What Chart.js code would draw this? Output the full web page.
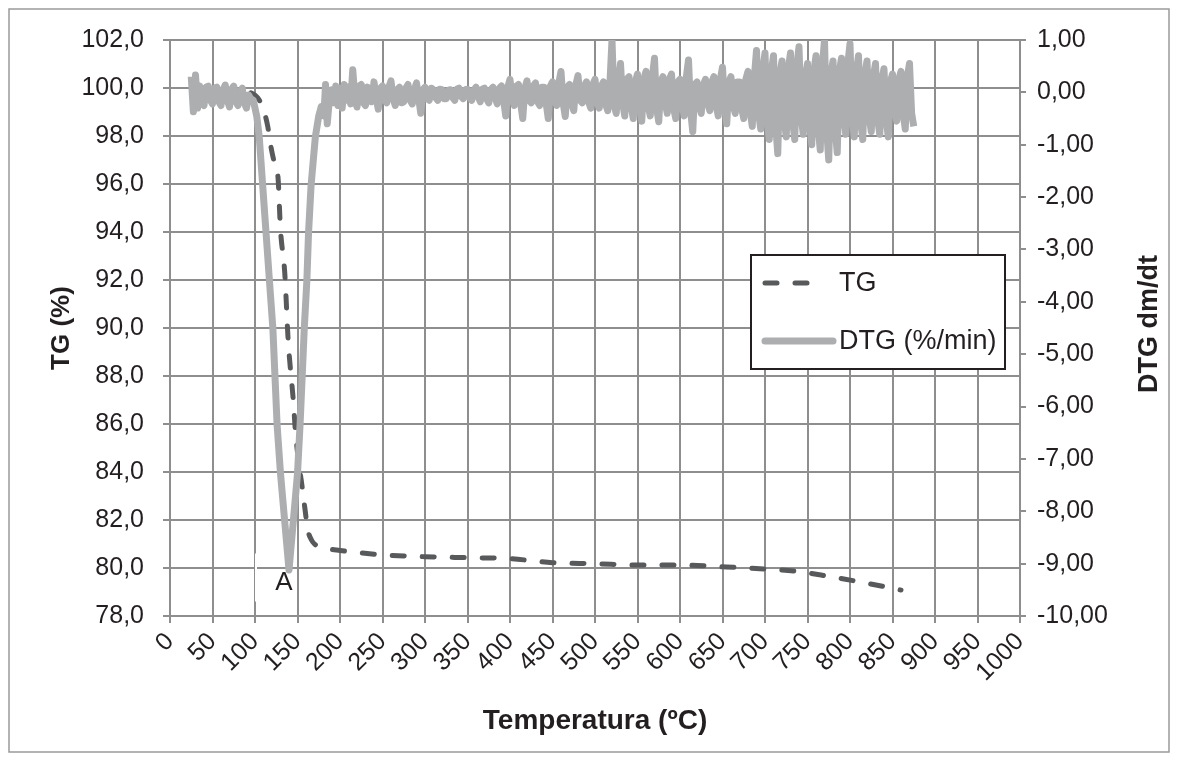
<!DOCTYPE html>
<html>
<head>
<meta charset="utf-8">
<script src="https://cdn.jsdelivr.net/npm/chart.js@4.4.1/dist/chart.umd.min.js"></script>
<style>
  html, body { margin: 0; padding: 0; background: #fff; }
  #wrap { width: 1178px; height: 760px; }
</style>
</head>
<body>
<div id="wrap"><canvas id="tgChart" width="1178" height="760"></canvas></div>
<script>
// axis ticks
const tempTicks = [0, 50, 100, 150, 200, 250, 300, 350, 400, 450, 500, 550, 600, 650, 700, 750, 800, 850, 900, 950, 1000];
const tgTicks = [78, 80, 82, 84, 86, 88, 90, 92, 94, 96, 98, 100, 102];
const dtgTicks = [-10, -9, -8, -7, -6, -5, -4, -3, -2, -1, 0, 1];

// TG curve (%)
const tgTemp = [25, 50, 75, 95, 100, 105, 110, 115, 118, 122, 127, 130, 135, 139, 145, 148, 153, 155, 159, 162, 166, 170, 180, 200, 250, 300, 350, 400, 450, 500, 550, 600, 650, 700, 740, 775, 815, 860];
const tgValue = [100.0, 99.95, 99.9, 99.8, 99.7, 99.5, 99.1, 98.4, 97.7, 97.0, 96.3, 94.1, 92.3, 89.5, 87.0, 85.5, 84.0, 83.5, 82.4, 81.6, 81.2, 81.0, 80.85, 80.73, 80.55, 80.47, 80.43, 80.39, 80.22, 80.18, 80.12, 80.12, 80.05, 79.96, 79.85, 79.65, 79.4, 79.08];

// DTG curve (%/min)
const dtgTemp = [
  25, 27.5, 30, 32.5, 35, 37.5, 40, 42.5, 45, 47.5, 50, 52.5, 55, 57.5, 60, 62.5, 65, 67.5, 70, 72.5, 75, 77.5, 80, 82.5, 85, 87.5, 90, 92.5, 95,
  98, 102, 105, 109, 113, 117, 121, 126, 130, 135, 140, 145, 150, 153, 158, 161, 163, 166, 171, 175, 178, 181, 183, 185, 188,
  190, 192.5, 195, 197.5, 200, 202.5, 205, 207.5, 210, 212.5, 215, 217.5, 220, 222.5, 225, 227.5, 230, 232.5, 235, 237.5,
  240, 242.5, 245, 247.5, 250, 252.5, 255, 257.5, 260, 262.5, 265, 267.5, 270, 272.5, 275, 277.5, 280, 282.5, 285, 287.5,
  290, 292.5, 295, 297.5, 300, 302.5, 305, 307.5, 310, 312.5, 315, 317.5, 320, 322.5, 325, 327.5, 330, 332.5, 335, 337.5,
  340, 342.5, 345, 347.5, 350, 352.5, 355, 357.5, 360, 362.5, 365, 367.5, 370, 372.5, 375, 377.5, 380, 382.5, 385, 387.5,
  390, 392.5, 395, 397.5, 400, 402.5, 405, 407.5, 410, 412.5, 415, 417.5, 420, 422.5, 425, 427.5, 430, 432.5, 435, 437.5,
  440, 442.5, 445, 447.5, 450, 452.5, 455, 457.5, 460, 462.5, 465, 467.5, 470, 472.5, 475, 477.5, 480, 482.5, 485, 487.5,
  490, 492.5, 495, 497.5, 500, 502.5, 505, 507.5, 510, 512.5, 515, 517.5, 520, 522.5, 525, 527.5, 530, 532.5, 535, 537.5,
  540, 542.5, 545, 547.5, 550, 552.5, 555, 557.5, 560, 562.5, 565, 567.5, 570, 572.5, 575, 577.5, 580, 582.5, 585, 587.5,
  590, 592.5, 595, 597.5, 600, 602.5, 605, 607.5, 610, 612.5, 615, 617.5, 620, 622.5, 625, 627.5, 630, 632.5, 635, 637.5,
  640, 642.5, 645, 647.5, 650, 652.5, 655, 657.5, 660, 662.5, 665, 667.5, 670, 672.5, 675, 677.5, 680, 682.5, 685, 687.5,
  690, 692.5, 695, 697.5, 700, 702.5, 705, 707.5, 710, 712.5, 715, 717.5, 720, 722.5, 725, 727.5, 730, 732.5, 735, 737.5,
  740, 742.5, 745, 747.5, 750, 752.5, 755, 757.5, 760, 762.5, 765, 767.5, 770, 772.5, 775, 777.5, 780, 782.5, 785, 787.5,
  790, 792.5, 795, 797.5, 800, 802.5, 805, 807.5, 810, 812.5, 815, 817.5, 820, 822.5, 825, 827.5, 830, 832.5, 835, 837.5,
  840, 842.5, 845, 847.5, 850, 852.5, 855, 857.5, 860, 862.5, 865, 867.5, 870, 872.5, 875];
const dtgValue = [
  0.30, -0.37, 0.33, -0.30, 0.12, -0.20, -0.25, 0.10, 0.12, -0.15, -0.22, 0.08, 0.10, -0.18, -0.25, 0.05, 0.14, -0.15, -0.28, 0.06, 0.12, -0.18, -0.25, 0.02, 0.08, -0.20, -0.30, -0.05, -0.12,
  -0.15, -0.45, -0.85, -1.77, -2.68, -3.60, -4.50, -6.35, -7.28, -8.20, -9.12, -8.20, -7.28, -6.35, -4.50, -3.60, -2.68, -1.77, -0.85, -0.45, -0.27, -0.45, 0.15, -0.60, -0.05,
  0.05, -0.20, 0.12, -0.25, 0.08, -0.30, 0.15, -0.15, 0.10, -0.22, 0.43, -0.10, -0.28, 0.12, 0.15, -0.20, -0.25, 0.10, 0.05, -0.18,
  0.20, -0.10, -0.32, 0.08, 0.12, -0.15, -0.20, 0.10, 0.22, -0.12, -0.25, 0.05, 0.10, -0.20, -0.18, 0.08, 0.15, -0.15, -0.22, 0.05,
  0.18, -0.10, -0.40, 0.05, 0.10, -0.12, -0.15, 0.08, 0.05, -0.10, -0.15, 0.06, 0.05, -0.12, -0.12, 0.04, 0.05, -0.10, -0.15, 0.06,
  0.08, -0.08, -0.12, 0.05, 0.06, -0.10, -0.15, 0.04, 0.10, -0.08, -0.18, 0.06, 0.08, -0.12, -0.20, 0.05, 0.10, -0.10, -0.22, 0.08,
  0.12, -0.15, -0.45, 0.10, 0.25, -0.12, -0.25, 0.12, 0.15, -0.20, -0.50, 0.08, 0.22, -0.15, -0.20, 0.12, 0.18, -0.18, -0.25, 0.10,
  0.10, -0.20, -0.50, 0.12, 0.20, -0.15, -0.25, 0.18, 0.40, -0.20, -0.46, 0.10, 0.15, -0.20, -0.35, 0.15, 0.32, -0.15, -0.20, 0.12,
  0.20, -0.18, -0.30, 0.15, 0.25, -0.20, -0.30, 0.12, 0.20, -0.22, -0.35, 0.15, 1.00, -0.25, -0.40, 0.20, 0.55, -0.20, -0.45, 0.25,
  0.30, -0.25, -0.50, 0.20, 0.35, -0.30, -0.55, 0.25, 0.40, -0.25, -0.45, 0.30, 0.65, -0.30, -0.56, 0.20, 0.30, -0.20, -0.40, 0.25,
  0.35, -0.30, -0.50, 0.20, 0.25, -0.25, -0.45, 0.30, 0.62, -0.35, -0.75, 0.15, 0.20, -0.25, -0.40, 0.15, 0.25, -0.20, -0.35, 0.20,
  0.30, -0.25, -0.45, 0.25, 0.48, -0.30, -0.60, 0.20, 0.30, -0.25, -0.40, 0.20, 0.20, -0.30, -0.50, 0.25, 0.40, -0.35, -0.65, 0.30,
  0.80, -0.40, -0.70, 0.45, 0.75, -0.50, -0.90, 0.40, 0.70, -0.60, -1.17, 0.35, 0.60, -0.50, -0.85, 0.45, 0.75, -0.55, -0.90, 0.50,
  0.87, -0.45, -0.80, 0.30, 0.55, -0.60, -1.00, 0.40, 0.70, -0.65, -1.10, 0.50, 1.00, -0.70, -1.29, 0.35, 0.60, -0.70, -1.15, 0.40,
  0.65, -0.45, -0.80, 0.55, 0.93, -0.50, -0.85, 0.40, 0.70, -0.55, -0.90, 0.35, 0.60, -0.45, -0.75, 0.30, 0.55, -0.50, -0.80, 0.25,
  0.45, -0.50, -0.85, 0.20, 0.35, -0.35, -0.55, 0.25, 0.40, -0.40, -0.70, 0.30, 0.55, -0.40, -0.65];

// peak marker
const peakLabel = 'A';
const peakAt = [134, 79.4];

const fontFamily = '"Liberation Sans", Arial, sans-serif';
const textColor = '#231f20';
const gridColor = '#8e8e8e';
const tgColor = '#58595b';
const dtgColor = '#adaeb0';

Chart.defaults.font.family = fontFamily;
Chart.defaults.color = textColor;

function fixTicks(list) {
  return function (scale) { scale.ticks = list.map(v => ({ value: v })); };
}
function comma(v, d) { return v.toFixed(d).replace('.', ','); }

const frameAndLegend = {
  id: 'frameAndLegend',
  beforeDraw(chart) {
    const ctx = chart.ctx;
    ctx.save();
    ctx.fillStyle = '#fff';
    ctx.fillRect(0, 0, chart.width, chart.height);
    ctx.strokeStyle = '#9a9a9a';
    ctx.lineWidth = 1.5;
    ctx.strokeRect(9, 9, chart.width - 18, chart.height - 17);
    ctx.restore();
  },
  afterDatasetsDraw(chart) {
    const ctx = chart.ctx;
    const x = chart.scales.x, y = chart.scales.y;
    const a = chart.chartArea;
    ctx.save();
    // white notch over the 100 gridline near the peak
    ctx.strokeStyle = '#fff';
    ctx.lineWidth = 2;
    ctx.beginPath();
    ctx.moveTo(x.getPixelForValue(100) + 1, y.getPixelForValue(80.6));
    ctx.lineTo(x.getPixelForValue(100) + 1, y.getPixelForValue(78.6));
    ctx.stroke();

    ctx.fillStyle = textColor;
    ctx.font = '26px ' + fontFamily;
    ctx.textAlign = 'center';
    ctx.textBaseline = 'middle';
    ctx.fillText(peakLabel, x.getPixelForValue(peakAt[0]), y.getPixelForValue(peakAt[1]));

    // right axis title, reading upwards
    ctx.save();
    ctx.translate(1150, (a.top + a.bottom) / 2 - 4);
    ctx.rotate(-Math.PI / 2);
    ctx.font = 'bold 27px ' + fontFamily;
    ctx.fillText('DTG dm/dt', 0, 0);
    ctx.restore();

    // legend box
    const bx = a.left + 581, by = a.top + 215, bw = 254, bh = 114;
    ctx.fillStyle = '#fff';
    ctx.fillRect(bx, by, bw, bh);
    ctx.strokeStyle = '#231f20';
    ctx.lineWidth = 2;
    ctx.strokeRect(bx, by, bw, bh);

    const tg = chart.data.datasets[1], dtg = chart.data.datasets[0];
    ctx.lineCap = 'round';
    ctx.strokeStyle = tg.borderColor;
    ctx.lineWidth = tg.borderWidth;
    ctx.setLineDash(tg.borderDash);
    ctx.beginPath();
    ctx.moveTo(bx + 14, by + 28);
    ctx.lineTo(bx + 64, by + 28);
    ctx.stroke();
    ctx.setLineDash([]);
    ctx.strokeStyle = dtg.borderColor;
    ctx.lineWidth = dtg.borderWidth;
    ctx.beginPath();
    ctx.moveTo(bx + 14, by + 86);
    ctx.lineTo(bx + 82, by + 86);
    ctx.stroke();

    ctx.fillStyle = textColor;
    ctx.font = '27px ' + fontFamily;
    ctx.textAlign = 'left';
    ctx.fillText(tg.label, bx + 88, by + 29);
    ctx.fillText(dtg.label, bx + 88, by + 87);
    ctx.restore();
  }
};

new Chart(document.getElementById('tgChart'), {
  type: 'line',
  data: {
    datasets: [
      {
        label: 'DTG (%/min)',
        yAxisID: 'y2',
        data: dtgTemp.map((t, i) => ({ x: t, y: dtgValue[i] })),
        borderColor: dtgColor,
        borderWidth: 7,
        borderJoinStyle: 'round',
        pointRadius: 0,
        order: 0
      },
      {
        label: 'TG',
        yAxisID: 'y',
        data: tgTemp.map((t, i) => ({ x: t, y: tgValue[i] })),
        borderColor: tgColor,
        borderWidth: 5,
        borderDash: [12, 18],
        borderCapStyle: 'round',
        cubicInterpolationMode: 'monotone',
        pointRadius: 0,
        order: 1
      }
    ]
  },
  options: {
    responsive: false,
    animation: false,
    devicePixelRatio: 1,
    layout: { padding: { top: 40, left: 0, right: 0, bottom: 0 } },
    plugins: { legend: { display: false }, tooltip: { enabled: false } },
    scales: {
      x: {
        type: 'linear',
        min: 0,
        max: 1000,
        afterBuildTicks: fixTicks(tempTicks),
        afterFit: s => { s.height = 144; },
        ticks: { autoSkip: false, minRotation: 45, maxRotation: 45, padding: 4, font: { size: 25 }, callback: v => String(v) },
        grid: { color: gridColor, lineWidth: 2, tickLength: 7 },
        border: { color: gridColor, width: 2 },
        title: { display: true, text: 'Temperatura (ºC)', font: { size: 28, weight: 'bold' }, padding: { top: 0, bottom: 22 } }
      },
      y: {
        position: 'left',
        min: 78,
        max: 102,
        afterBuildTicks: fixTicks(tgTicks),
        afterFit: s => { s.width = 170; },
        ticks: { padding: 19, font: { size: 25 }, callback: v => comma(v, 1) },
        grid: { color: gridColor, lineWidth: 2, tickLength: 7 },
        border: { color: gridColor, width: 2 },
        title: { display: true, text: 'TG (%)', font: { size: 26, weight: 'bold' }, padding: { top: 46, bottom: 0 } }
      },
      y2: {
        position: 'right',
        min: -10,
        max: 1,
        afterBuildTicks: fixTicks(dtgTicks),
        afterFit: s => { s.width = 158; },
        ticks: { padding: 11, font: { size: 25 }, callback: v => comma(v, 2) },
        grid: { drawOnChartArea: false, color: gridColor, lineWidth: 2, tickLength: 6 },
        border: { color: gridColor, width: 2 },
        title: { display: false }
      }
    }
  },
  plugins: [frameAndLegend]
});
</script>
</body>
</html>
